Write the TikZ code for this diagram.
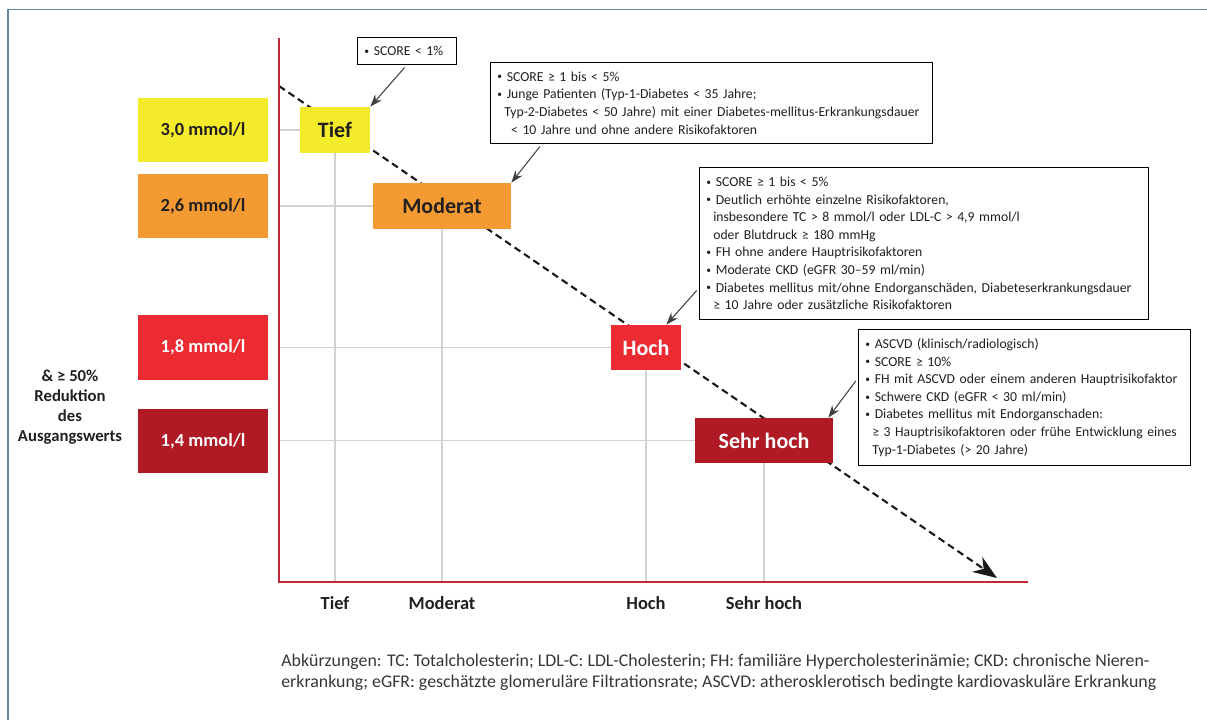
\documentclass[tikz,border=0pt]{standalone}
\usepackage{fontspec}
\setmainfont{Carlito}
\usepackage{graphicx}
\usepackage{tikz}
\usetikzlibrary{positioning,arrows.meta,backgrounds}
\usepackage{xcolor}
\definecolor{lvlyellow}{RGB}{244,235,42}
\definecolor{lvlorange}{RGB}{243,154,50}
\definecolor{lvlred}{RGB}{236,42,50}
\definecolor{lvldarkred}{RGB}{175,26,36}
\definecolor{axisred}{RGB}{192,40,58}
\definecolor{framegray}{RGB}{100,130,165}
\definecolor{gridgray}{RGB}{210,210,210}
\definecolor{textdark}{RGB}{35,31,32}
\newcommand{\noteindent}{\hspace*{0.5em}}
\newcommand{\notebullet}{\raisebox{0.2ex}{\scalebox{0.7}{•}}\ }

\begin{document}
\begin{tikzpicture}[
  levelbox/.style={rectangle,minimum width=2.6cm,minimum height=1.28cm,
    font=\fontsize{10.5}{12}\selectfont\bfseries,text=textdark},
  riskbox/.style={rectangle,minimum height=0.92cm,
    font=\fontsize{12.5}{14}\selectfont\bfseries,text=textdark},
  notebox/.style={rectangle,draw=black,line width=0.5pt,fill=white,anchor=north west,
    font=\fontsize{7.8}{10}\selectfont,text=textdark,align=left,inner xsep=0.14cm,inner ysep=0.1cm},
  gridline/.style={gridgray,line width=1pt},
  callarrow/.style={-{Stealth[length=7pt,width=5pt]},black!75,line width=0.6pt,shorten <=2pt},
  axislabel/.style={font=\fontsize{10.5}{12}\selectfont\bfseries,text=textdark}
]
\useasboundingbox (-5.58,-2.76) rectangle (18.56,11.64);

% Frame
\draw[framegray,line width=0.8pt] (-5.42,-2.76) -- (-5.42,11.45) -- (18.56,11.45);

% Axes
\coordinate (origin) at (0,0);
\coordinate (xlab) at (0,-0.42);
\draw[axisred,line width=1.4pt] (0,10.88) -- (origin) -- (14.98,0);

% Left: target values
\node[levelbox,fill=lvlyellow] (lvl30) at (-1.52,9.04) {3,0 mmol/l};
\node[levelbox,fill=lvlorange] (lvl26) at (-1.52,7.52) {2,6 mmol/l};
\node[levelbox,fill=lvlred,text=white,minimum height=1.3cm] (lvl18) at (-1.52,4.69) {1,8 mmol/l};
\node[levelbox,fill=lvldarkred,text=white] (lvl14) at (-1.52,2.82) {1,4 mmol/l};
\node[font=\fontsize{9.5}{11.3}\selectfont\bfseries,align=center,text=textdark] (reduktion) at (-4.18,3.5)
  {\& ≥ 50\%\\Reduktion\\des\\Ausgangswerts};

% Risk categories
\node[riskbox,fill=lvlyellow,minimum width=1.4cm] (tief) at (1.12,9.04) {Tief};
\node[riskbox,fill=lvlorange,minimum width=2.76cm] (moderat) at (3.26,7.52) {Moderat};
\node[riskbox,fill=lvlred,text=white,minimum width=1.4cm,minimum height=0.9cm] (hoch) at (7.34,4.69) {Hoch};
\node[riskbox,fill=lvldarkred,text=white,minimum width=2.76cm,minimum height=0.9cm] (sehrhoch) at (9.70,2.83) {Sehr hoch};

\node[axislabel] (xtief) at (tief |- xlab) {Tief};
\node[axislabel] (xmoderat) at (moderat |- xlab) {Moderat};
\node[axislabel] (xhoch) at (hoch |- xlab) {Hoch};
\node[axislabel] (xsehrhoch) at (sehrhoch |- xlab) {Sehr hoch};

% Grid and trend behind the boxes
\coordinate (trendstart) at (0,9.92);
\coordinate (trendend) at (14.36,0.08);
\begin{scope}[on background layer]
  \foreach \r in {tief,moderat,hoch,sehrhoch}{
    \draw[gridline] (\r.west -| origin) -- (\r.west);
    \draw[gridline] (\r.south) -- (\r.south |- origin);
  }
  \draw[black!90,line width=1.2pt,dash pattern=on 4pt off 2.5pt,
    -{Stealth[length=0.48cm,width=0.36cm]}] (trendstart) -- (trendend);
\end{scope}

% Criteria
\node[notebox,text width=1.70cm,minimum height=0.54cm] (note1) at (1.56,10.9) {\notebullet SCORE < 1\%};
\node[notebox,text width=8.56cm,minimum height=1.62cm] (note2) at (4.22,10.4) {\notebullet SCORE ≥ 1 bis < 5\%\\
  \notebullet Junge Patienten (Typ-1-Diabetes < 35 Jahre;\\
  \noteindent Typ-2-Diabetes < 50 Jahre) mit einer Diabetes-mellitus-Erkrankungsdauer\\
  \noteindent\noteindent< 10 Jahre und ohne andere Risikofaktoren};
\node[notebox,text width=8.70cm,minimum height=3.04cm] (note3) at (8.40,8.30) {\notebullet SCORE ≥ 1 bis < 5\%\\
  \notebullet Deutlich erhöhte einzelne Risikofaktoren,\\
  \noteindent insbesondere TC > 8 mmol/l oder LDL-C > 4,9 mmol/l\\
  \noteindent oder Blutdruck ≥ 180 mmHg\\
  \notebullet FH ohne andere Hauptrisikofaktoren\\
  \notebullet Moderate CKD (eGFR 30–59 ml/min)\\
  \notebullet Diabetes mellitus mit/ohne Endorganschäden, Diabeteserkrankungsdauer\\
  \noteindent ≥ 10 Jahre oder zusätzliche Risikofaktoren};
\node[notebox,text width=6.36cm,minimum height=2.72cm] (note4) at (11.58,5.06) {\notebullet ASCVD (klinisch/radiologisch)\\
  \notebullet SCORE ≥ 10\%\\
  \notebullet FH mit ASCVD oder einem anderen Hauptrisikofaktor\\
  \notebullet Schwere CKD (eGFR < 30 ml/min)\\
  \notebullet Diabetes mellitus mit Endorganschaden:\\
  \noteindent ≥ 3 Hauptrisikofaktoren oder frühe Entwicklung eines\\
  \noteindent Typ-1-Diabetes (> 20 Jahre)};

\draw[callarrow] (note1.south) -- (tief.north east);
\draw[callarrow] ([xshift=1.04cm]note2.south west) -- (moderat.north east);
\draw[callarrow] ([yshift=0.64cm]note3.south west) -- ([xshift=-0.3cm]hoch.north east);
\draw[callarrow] ([yshift=-0.98cm]note4.north west) -- ([xshift=-0.1cm]sehrhoch.north east);

% Abbreviations
\node[anchor=north west,font=\fontsize{10.15}{11.9}\selectfont,text=textdark!90,align=left,inner sep=0pt] (abk) at (0.04,-1.44)
  {Abkürzungen: TC: Totalcholesterin; LDL-C: LDL-Cholesterin; FH: familiäre Hypercholesterinämie; CKD: chronische Nieren-\\
   erkrankung; eGFR: geschätzte glomeruläre Filtrationsrate; ASCVD: atherosklerotisch bedingte kardiovaskuläre Erkrankung};

\end{tikzpicture}
\end{document}
